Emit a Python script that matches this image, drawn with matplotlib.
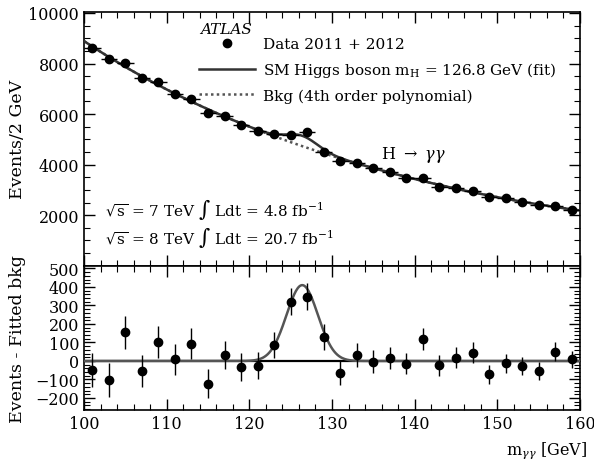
import numpy as np
import matplotlib
matplotlib.use('Agg')
import matplotlib.pyplot as plt
from matplotlib.lines import Line2D
from matplotlib.ticker import MultipleLocator

plt.rcParams['font.family'] = 'DejaVu Serif'
plt.rcParams['mathtext.fontset'] = 'dejavuserif'

# bin centres (2 GeV bins)
mass = [101, 103, 105, 107, 109, 111, 113, 115, 117, 119,
        121, 123, 125, 127, 129, 131, 133, 135, 137, 139,
        141, 143, 145, 147, 149, 151, 153, 155, 157, 159]

# events per bin
events = [8620, 8160, 8030, 7435, 7280, 6790, 6580, 6050, 5935, 5560,
          5325, 5195, 5170, 5300, 4510, 4140, 4075, 3850, 3690, 3480,
          3455, 3125, 3060, 2955, 2705, 2665, 2535, 2400, 2375, 2200]

events_err = [93, 91, 90, 87, 86, 83, 82, 78, 77, 75,
              73, 72, 72, 73, 68, 65, 64, 62, 61, 59,
              59, 56, 56, 55, 52, 52, 51, 49, 49, 47]

# events - fitted background
resid = [-50, -103, 154, -56, 103, 9, 94, -122, 32, -32,
         -27, 86, 321, 346, 130, -63, 32, -5, 15, -14,
         117, -23, 18, 45, -72, -12, -27, -56, 51, 9]

top_yticks = [2000, 4000, 6000, 8000, 10000]
bot_yticks = [-200, -100, 0, 100, 200, 300, 400, 500]
bot_ylabels = ['\u2212200', '\u2212100', '0', '100', '200', '300', '400', '500']

# signal fit (gaussian) parameters
sig_amp = 410
sig_mean = 126.4
sig_width = 1.9

mass = np.array(mass)
events = np.array(events)
resid = np.array(resid)

# 4th order polynomial background
bkg_coef = np.polyfit(mass, events - resid, 4)
xx = np.linspace(100, 160, 600)
bkg = np.polyval(bkg_coef, xx)
sig = sig_amp * np.exp(-0.5 * ((xx - sig_mean) / sig_width) ** 2)

fig = plt.figure(figsize=(5.94, 4.60), dpi=100)
ax1 = fig.add_axes([0.1414, 0.4202, 0.835, 0.5522])
ax2 = fig.add_axes([0.1414, 0.1065, 0.835, 0.3137])

# ---- top panel
ax1.plot(xx, bkg, color='#555555', ls=(0, (1, 1.3)), lw=1.8, zorder=2)
ax1.plot(xx, bkg + sig, color='#333333', lw=1.8, zorder=3)
ax1.errorbar(mass, events, yerr=events_err, xerr=1, fmt='o', color='black',
             ms=6, elinewidth=1.0, capsize=0, zorder=4)
ax1.set_xlim(100, 160)
ax1.set_ylim(0, 10050)
ax1.set_yticks(top_yticks)
ax1.set_ylabel('Events/2 GeV', fontsize=12.5)
ax1.yaxis.set_label_coords(-0.117, 0.5)
ax1.set_xticklabels([])

handles = [Line2D([], [], marker='o', ls='none', color='black', ms=6),
           Line2D([], [], color='#333333', lw=1.8),
           Line2D([], [], color='#555555', ls=(0, (1, 1.3)), lw=1.8)]
labels = ['Data 2011 + 2012',
          r'SM Higgs boson m$_{\rm H}$ = 126.8 GeV (fit)',
          'Bkg (4th order polynomial)']
ax1.legend(handles, labels, loc='upper left', bbox_to_anchor=(0.231, 0.9),
           frameon=False, fontsize=11, handlelength=3.7, handletextpad=0.55,
           labelspacing=0.6, borderpad=0, borderaxespad=0)
ax1.text(0.234, 0.93, 'ATLAS', transform=ax1.transAxes, fontsize=11,
         style='italic', va='center')
ax1.text(0.598, 0.44, r'H $\rightarrow$ $\gamma\gamma$', transform=ax1.transAxes,
         fontsize=11.5, va='center')
ax1.text(0.042, 0.225, r'$\sqrt{\rm s}$ = 7 TeV $\int$ Ldt = 4.8 fb$^{-1}$',
         transform=ax1.transAxes, fontsize=11, va='center')
ax1.text(0.042, 0.115, r'$\sqrt{\rm s}$ = 8 TeV $\int$ Ldt = 20.7 fb$^{-1}$',
         transform=ax1.transAxes, fontsize=11, va='center')

# ---- bottom panel
ax2.axhline(0, color='black', lw=1.6, zorder=2)
ax2.plot(xx, sig, color='#555555', lw=1.8, zorder=3)
ax2.errorbar(mass, resid, yerr=events_err, fmt='o', color='black',
             ms=6, elinewidth=1.0, capsize=0, zorder=4)
ax2.set_xlim(100, 160)
ax2.set_ylim(-265, 515)
ax2.set_yticks(bot_yticks)
ax2.set_yticklabels(bot_ylabels)
ax2.set_ylabel('Events - Fitted bkg', fontsize=12.5)
ax2.yaxis.set_label_coords(-0.117, 0.5)
ax2.set_xlabel(r'm$_{\gamma\gamma}$ [GeV]', fontsize=11.5, ha='right')
ax2.xaxis.set_label_coords(1.015, -0.2)

ax1.yaxis.set_minor_locator(MultipleLocator(500))
ax2.yaxis.set_minor_locator(MultipleLocator(20))
for ax in (ax1, ax2):
    ax.xaxis.set_major_locator(MultipleLocator(10))
    ax.xaxis.set_minor_locator(MultipleLocator(2))
    ax.tick_params(which='both', direction='in', top=True, right=True,
                   labelsize=11.5)
    ax.tick_params(which='major', length=8, width=1.0)
    ax.tick_params(which='minor', length=4, width=0.8)
    for s in ax.spines.values():
        s.set_linewidth(1.2)

fig.savefig('out.png', dpi=100)
